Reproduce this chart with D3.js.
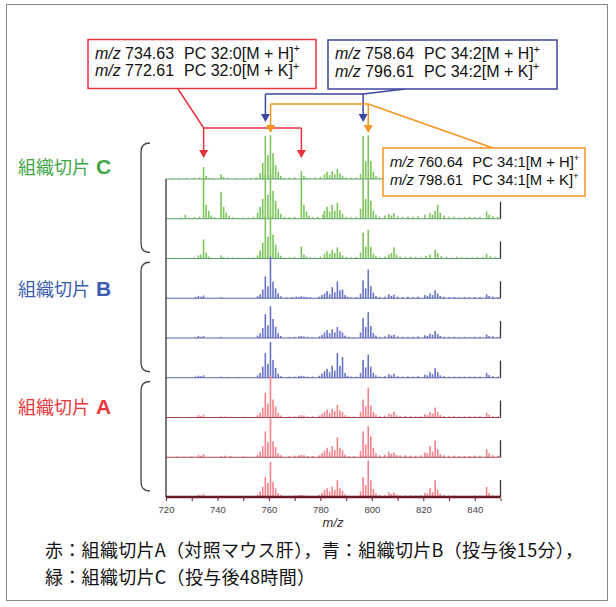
<!DOCTYPE html>
<html>
<head>
<meta charset="utf-8">
<script src="https://cdn.jsdelivr.net/npm/d3@7"></script>
<style>
  body { margin: 0; background: #fff; }
  svg text { font-family: "Liberation Sans", Arial, sans-serif; }
  .cjk { font-family: "Noto Sans CJK JP", "Noto Sans", sans-serif; }
</style>
</head>
<body>
<div id="chart"></div>
<script>
// rows, top to bottom (slice C x3, slice B x3, slice A x3)
const rowIds = ['C1', 'C2', 'C3', 'B1', 'B2', 'B3', 'A1', 'A2', 'A3'];

// peaks: [m/z, relative intensity]  (100 = one row height)
const specC1 = [
  [722, 2], [725, 2], [728, 3], [731, 3], [733, 4], [734.6, 30], [735.6, 8], [736.6, 3], [738, 2],
  [741.4, 12], [742.4, 5], [744, 3], [747, 2], [750, 2], [753, 3], [755, 4], [756.6, 15], [757.6, 40],
  [758.6, 108], [759.6, 60], [760.6, 110], [761.6, 65], [762.6, 35], [763.6, 18], [764.6, 8], [766, 3],
  [768, 3], [770, 4], [772.6, 20], [773.6, 8], [774.6, 4], [776, 3], [778, 4], [780, 5], [781.6, 12],
  [782.6, 18], [783.6, 10], [784.6, 20], [785.6, 12], [786.6, 25], [787.6, 14], [788.6, 8], [790, 4],
  [792, 3], [794, 4], [795.6, 12], [796.6, 108], [797.6, 45], [798.6, 110], [799.6, 45], [800.6, 18],
  [801.6, 8], [803, 4], [805, 5], [806.6, 8], [808.6, 10], [810, 5], [812, 4], [814, 5], [816, 4],
  [818, 5], [820.6, 8], [822.6, 10], [824.6, 12], [826, 6], [828, 4], [830, 3], [832, 4], [834, 3],
  [836, 3], [838, 3], [840, 3], [842, 4], [844.6, 10], [846, 6], [848, 4], [849.5, 3]
];
const specC2 = [
  [723, 2], [726, 3], [727.5, 10], [729, 3], [731, 4], [733, 5], [734.6, 100], [735.6, 35], [736.6, 20],
  [737.6, 8], [739, 4], [741.4, 68], [742.4, 30], [743.4, 15], [744.5, 8], [746, 4], [748, 3], [750, 3],
  [752, 3], [754, 5], [755.6, 15], [756.6, 30], [757.6, 50], [758.6, 110], [759.6, 60], [760.6, 112],
  [761.6, 70], [762.6, 45], [763.6, 25], [764.6, 12], [766, 5], [768, 4], [770, 5], [772.6, 100],
  [773.6, 35], [774.6, 18], [775.6, 8], [777, 4], [779, 5], [781, 10], [781.6, 20], [782.6, 30],
  [783.6, 18], [784.6, 35], [785.6, 20], [786.6, 40], [787.6, 22], [788.6, 12], [790, 5], [792, 4],
  [794, 5], [795.6, 25], [796.6, 105], [797.6, 50], [798.6, 100], [799.6, 45], [800.6, 20], [801.6, 10],
  [803, 5], [805, 8], [806.6, 12], [807.6, 8], [808.6, 14], [810, 6], [812, 5], [814, 6], [816, 5],
  [818, 6], [820.6, 10], [822.6, 14], [823.6, 10], [824.6, 20], [825.6, 35], [826.6, 15], [828, 8],
  [830, 5], [832, 5], [834, 4], [836, 4], [838, 5], [840, 4], [842, 5], [844.6, 18], [845.6, 10],
  [847, 6], [849, 4]
];
const specC3 = [
  [723, 2], [728, 2], [731, 3], [732.6, 8], [733.6, 10], [734.6, 48], [735.6, 15], [736.6, 5], [738, 2],
  [741.4, 8], [742.4, 4], [744, 3], [746, 3], [748, 2], [750, 2], [752, 2], [754, 3], [755.6, 8],
  [756.6, 20], [757.6, 40], [758.6, 105], [759.6, 55], [760.6, 108], [761.6, 60], [762.6, 35],
  [763.6, 15], [764.6, 7], [766, 3], [768, 3], [770, 4], [772.6, 30], [773.6, 10], [774.6, 5], [776, 3],
  [778, 3], [780, 5], [781.6, 12], [782.6, 18], [783.6, 12], [784.6, 22], [785.6, 14], [786.6, 28],
  [787.6, 16], [788.6, 8], [790, 4], [792, 3], [794, 4], [795.6, 15], [796.6, 65], [797.6, 30],
  [798.6, 72], [799.6, 30], [800.6, 12], [801.6, 6], [803, 4], [805, 5], [806.6, 10], [807.6, 14],
  [808.6, 28], [809.6, 10], [811, 5], [813, 4], [815, 5], [817, 4], [819, 4], [821, 6], [822.6, 10],
  [824.6, 22], [825.6, 14], [827, 6], [829, 4], [831, 3], [833, 4], [835, 3], [837, 3], [839, 3],
  [841, 4], [843, 4], [844.6, 12], [846, 6], [848, 4]
];
const specB1 = [
  [731.5, 3], [732.6, 6], [733.6, 4], [734.6, 7], [741.4, 3], [755.6, 5], [756.6, 10], [757.6, 22],
  [758.6, 55], [759.6, 30], [760.6, 105], [761.6, 42], [762.6, 25], [763.6, 12], [764.6, 5], [767, 2],
  [769, 3], [770.6, 4], [771.6, 3], [772.6, 5], [773.6, 4], [774.6, 3], [776, 2], [779.6, 4], [780.6, 8],
  [781.6, 12], [782.6, 18], [783.6, 10], [784.6, 28], [785.6, 15], [786.6, 42], [787.6, 20], [788.6, 22],
  [789.6, 8], [790.6, 4], [792, 2], [794, 3], [795.6, 12], [796.6, 45], [797.6, 25], [798.6, 72],
  [799.6, 30], [800.6, 14], [801.6, 6], [803, 3], [805, 4], [806.6, 10], [807.6, 6], [808.6, 9],
  [810, 4], [812, 3], [814, 4], [816, 3], [818, 4], [820.6, 8], [821.6, 6], [822.6, 12], [823.6, 8],
  [824.6, 20], [825.6, 12], [826.6, 6], [828, 4], [830, 3], [832, 3], [834, 2], [836, 3], [838, 2],
  [840, 3], [842, 3], [844.6, 10], [845.6, 6], [847, 4], [849, 3]
];
const specB2 = [
  [731.5, 2], [732.6, 5], [733.6, 3], [734.6, 5], [741.4, 3], [755.6, 6], [756.6, 12], [757.6, 25],
  [758.6, 60], [759.6, 32], [760.6, 80], [761.6, 48], [762.6, 28], [763.6, 12], [764.6, 5], [768, 2],
  [770, 3], [771.6, 4], [772.6, 5], [773.6, 4], [775, 3], [777, 2], [779.6, 4], [780.6, 8], [781.6, 14],
  [782.6, 20], [783.6, 12], [784.6, 22], [785.6, 14], [786.6, 28], [787.6, 18], [788.6, 14],
  [789.6, 6], [791, 3], [793, 2], [795.6, 14], [796.6, 50], [797.6, 28], [798.6, 65], [799.6, 30],
  [800.6, 12], [801.6, 6], [803, 3], [805, 4], [806.6, 9], [807.6, 6], [808.6, 8], [810, 4], [812, 3],
  [814, 3], [816, 3], [818, 4], [820.6, 7], [821.6, 5], [822.6, 11], [823.6, 8], [824.6, 18],
  [825.6, 10], [826.6, 5], [828, 3], [830, 3], [832, 3], [834, 2], [836, 3], [838, 2], [840, 3],
  [842, 3], [844.6, 9], [845.6, 5], [847, 4], [849, 3]
];
const specB3 = [
  [731.5, 3], [732.6, 5], [733.6, 4], [734.6, 6], [741.4, 3], [744, 2], [748, 2], [755.6, 6],
  [756.6, 12], [757.6, 28], [758.6, 62], [759.6, 35], [760.6, 90], [761.6, 45], [762.6, 25],
  [763.6, 10], [764.6, 4], [768, 3], [770, 3], [771.6, 4], [772.6, 5], [773.6, 4], [775, 3], [777, 3],
  [779.6, 5], [780.6, 10], [781.6, 16], [782.6, 22], [783.6, 14], [784.6, 30], [785.6, 18],
  [786.6, 62], [787.6, 30], [788.6, 52], [789.6, 12], [790.6, 5], [792, 3], [794, 3], [795.6, 12],
  [796.6, 45], [797.6, 26], [798.6, 58], [799.6, 28], [800.6, 12], [801.6, 6], [803, 3], [805, 4],
  [806.6, 9], [807.6, 6], [808.6, 10], [810, 4], [812, 3], [814, 4], [816, 3], [818, 4], [820.6, 8],
  [821.6, 6], [822.6, 14], [823.6, 9], [824.6, 24], [825.6, 14], [826.6, 6], [828, 4], [830, 3],
  [832, 3], [834, 3], [836, 3], [838, 3], [840, 3], [842, 3], [844.6, 12], [845.6, 7], [847, 4],
  [849, 3]
];
const specA1 = [
  [724, 2], [730, 2], [732.6, 6], [733.6, 4], [734.6, 7], [741.4, 3], [743, 3], [745, 2], [750, 2],
  [755.6, 6], [756.6, 12], [757.6, 25], [758.6, 62], [759.6, 35], [760.6, 105], [761.6, 45],
  [762.6, 28], [763.6, 12], [764.6, 5], [768, 3], [770, 3], [771.6, 5], [772.6, 6], [773.6, 5],
  [775, 3], [777, 3], [779.6, 5], [780.6, 9], [781.6, 14], [782.6, 20], [783.6, 12], [784.6, 22],
  [785.6, 16], [786.6, 32], [787.6, 18], [788.6, 14], [789.6, 6], [791, 3], [793, 3], [795.6, 14],
  [796.6, 45], [797.6, 28], [798.6, 75], [799.6, 30], [800.6, 14], [801.6, 7], [803, 4], [805, 5],
  [806.6, 10], [807.6, 8], [808.6, 15], [809.6, 6], [811, 4], [813, 4], [815, 4], [817, 3], [819, 4],
  [820.6, 8], [821.6, 6], [822.6, 14], [823.6, 10], [824.6, 25], [825.6, 14], [826.6, 6], [828, 4],
  [830, 3], [832, 4], [834, 3], [836, 3], [838, 3], [840, 3], [842, 4], [844.6, 12], [845.6, 7],
  [847, 4], [849, 3]
];
const specA2 = [
  [724, 2], [730, 2], [732.6, 6], [733.6, 4], [734.6, 8], [741.4, 3], [743, 4], [745, 3], [750, 2],
  [755.6, 6], [756.6, 14], [757.6, 28], [758.6, 65], [759.6, 38], [760.6, 98], [761.6, 40],
  [762.6, 26], [763.6, 10], [764.6, 5], [768, 3], [770, 4], [771.6, 5], [772.6, 6], [773.6, 5],
  [775, 3], [777, 3], [779.6, 5], [780.6, 10], [781.6, 16], [782.6, 24], [783.6, 14], [784.6, 28],
  [785.6, 18], [786.6, 50], [787.6, 24], [788.6, 18], [789.6, 7], [791, 3], [793, 3], [795.6, 16],
  [796.6, 65], [797.6, 32], [798.6, 78], [799.6, 52], [800.6, 24], [801.6, 10], [803, 5], [805, 6],
  [806.6, 14], [807.6, 9], [808.6, 12], [809.6, 6], [811, 5], [813, 5], [815, 4], [817, 4], [819, 5],
  [820.6, 12], [821.6, 10], [822.6, 28], [823.6, 14], [824.6, 42], [825.6, 20], [826.6, 8], [828, 5],
  [830, 4], [832, 4], [834, 3], [836, 3], [838, 3], [840, 4], [842, 4], [844.6, 20], [845.6, 10],
  [847, 5], [849, 4]
];
const specA3 = [
  [724, 2], [730, 2], [732.6, 5], [733.6, 4], [734.6, 7], [740, 3], [742, 3], [744, 3], [750, 2],
  [755.6, 6], [756.6, 14], [757.6, 26], [758.6, 50], [759.6, 35], [760.6, 88], [761.6, 38],
  [762.6, 22], [763.6, 10], [764.6, 5], [768, 3], [770, 4], [771.6, 5], [772.6, 5], [773.6, 4],
  [775, 3], [777, 3], [779.6, 5], [780.6, 10], [781.6, 18], [782.6, 22], [783.6, 14], [784.6, 26],
  [785.6, 18], [786.6, 42], [787.6, 22], [788.6, 16], [789.6, 7], [791, 3], [793, 3], [795.6, 14],
  [796.6, 50], [797.6, 30], [798.6, 92], [799.6, 42], [800.6, 20], [801.6, 9], [803, 5], [805, 5],
  [806.6, 12], [807.6, 8], [808.6, 11], [809.6, 6], [811, 4], [813, 4], [815, 4], [817, 4], [819, 5],
  [820.6, 10], [821.6, 9], [822.6, 22], [823.6, 12], [824.6, 42], [825.6, 18], [826.6, 8], [828, 5],
  [830, 4], [832, 4], [834, 3], [836, 3], [838, 3], [840, 4], [842, 4], [844.6, 25], [845.6, 10],
  [847, 5], [849, 4]
];
const spectra = [specC1, specC2, specC3, specB1, specB2, specB3, specA1, specA2, specA3];

const xTicks = [720, 730, 740, 750, 760, 770, 780, 790, 800, 810, 820, 830, 840, 850];

// annotated ions
const redIons = [734.63, 772.61];
const blueIons = [758.64, 796.61];
const orangeIons = [760.64, 798.61];
const redLabels = [['734.63', 'PC 32:0[M + H]'], ['772.61', 'PC 32:0[M + K]']];
const blueLabels = [['758.64', 'PC 34:2[M + H]'], ['796.61', 'PC 34:2[M + K]']];
const orangeLabels = [['760.64', 'PC 34:1[M + H]'], ['798.61', 'PC 34:1[M + K]']];

const groupNames = ['C', 'B', 'A'];
const caption1 = '赤：組織切片A（対照マウス肝），青：組織切片B（投与後15分），';
const caption2 = '緑：組織切片C（投与後48時間）';

// ---- layout / styles
const W = 616, H = 607;
const groupStyle = {
  C: { bar: '#7cc65c', base: '#5f9e6c', text: '#3fa648' },
  B: { bar: '#6874c6', base: '#5a64ae', text: '#3b5db0' },
  A: { bar: '#f2838b', base: '#a84452', text: '#e8383d' },
};
const red = '#e8323c', blue = '#3b469e', orange = '#f7941d';

const svg = d3.select('#chart').append('svg')
  .attr('width', W).attr('height', H);

// outer frame
svg.append('rect')
  .attr('x', 6.5).attr('y', 4.5).attr('width', 601).attr('height', 596)
  .attr('fill', 'none').attr('stroke', '#888').attr('stroke-width', 1);

const x = d3.scaleLinear().domain([720, 850]).range([166, 500.5]);
const rowY = d3.scalePoint().domain(rowIds).range([179, 497]);
const hgt = d3.scaleLinear().domain([0, 100]).range([0, 39.75]);

// spectra
rowIds.forEach((id, i) => {
  const st = groupStyle[id[0]];
  const base = rowY(id);
  const g = svg.append('g');
  g.selectAll('rect')
    .data(spectra[i])
    .enter().append('rect')
    .attr('x', d => x(d[0]) - 0.8)
    .attr('width', 1.6)
    .attr('y', d => base - hgt(d[1]))
    .attr('height', d => hgt(d[1]))
    .attr('fill', st.bar);
  // baseline
  g.append('line')
    .attr('x1', x(720)).attr('x2', x(850))
    .attr('y1', base).attr('y2', base)
    .attr('stroke', i === rowIds.length - 1 ? '#6a1c24' : st.base)
    .attr('stroke-width', i === rowIds.length - 1 ? 2.5 : 1.2);
  // right scale tick
  g.append('line')
    .attr('x1', x(850)).attr('x2', x(850))
    .attr('y1', base).attr('y2', base - 17)
    .attr('stroke', '#333').attr('stroke-width', 1.3);
});

// left axis line
svg.append('line')
  .attr('x1', x(720)).attr('x2', x(720))
  .attr('y1', rowY('C1')).attr('y2', rowY('A3'))
  .attr('stroke', '#333').attr('stroke-width', 1.3);

// bottom axis
const xAxis = d3.axisBottom(x)
  .tickValues(xTicks)
  .tickSize(3)
  .tickFormat(d => (d % 20 === 0 && d < 850) ? d : '');
const axG = svg.append('g')
  .attr('transform', `translate(0, ${rowY('A3') + 1})`)
  .call(xAxis);
axG.select('.domain').remove();
axG.selectAll('line').attr('stroke', '#6a1c24');
axG.selectAll('text')
  .attr('fill', '#444')
  .style('font-size', '9.5px')
  .style('font-family', '"Liberation Sans", Arial, sans-serif')
  .attr('dy', '0.9em');

svg.append('text')
  .attr('x', 333).attr('y', 527)
  .attr('text-anchor', 'middle')
  .style('font-style', 'italic')
  .style('font-size', '13px')
  .attr('fill', '#333')
  .text('m/z');

// brackets + group labels
const groupRows = [['C1', 'C3'], ['B1', 'B3'], ['A1', 'A3']];
const labelY = [174, 296, 414];
groupNames.forEach((gname, i) => {
  const y1 = rowY(groupRows[i][0]) - 36;
  const y2 = rowY(groupRows[i][1]) - 6;
  svg.append('path')
    .attr('d', `M150,${y1} Q141,${y1} 141,${y1 + 9} L141,${y2 - 9} Q141,${y2} 150,${y2}`)
    .attr('fill', 'none').attr('stroke', '#444').attr('stroke-width', 1.3);
  const t = svg.append('text')
    .attr('y', labelY[i])
    .attr('fill', groupStyle[gname].text);
  t.append('tspan').attr('x', 18).attr('class', 'cjk')
    .style('font-size', '18px').text('組織切片');
  t.append('tspan').attr('x', 96)
    .style('font-size', '21px').style('font-weight', 'bold').text(gname);
});

// annotation boxes
function box(bx, by, bw, bh, color, labels, fs) {
  svg.append('rect')
    .attr('x', bx).attr('y', by).attr('width', bw).attr('height', bh)
    .attr('fill', '#fff').attr('stroke', color).attr('stroke-width', 1.5);
  labels.forEach((l, k) => {
    const t = svg.append('text')
      .attr('y', by + 19 + k * 17.5)
      .style('font-size', fs + 'px').attr('fill', '#111');
    t.append('tspan').attr('x', bx + 7).style('font-style', 'italic').text('m/z');
    t.append('tspan').attr('dx', fs * 0.27).text(l[0]);
    t.append('tspan').attr('dx', fs * 0.62).text(l[1]);
    t.append('tspan').attr('dy', -fs * 0.4).style('font-size', (fs * 0.65) + 'px').text('+');
  });
}

function arrowHead(ax, tipY, color) {
  svg.append('path')
    .attr('d', `M${ax - 4.5},${tipY - 8} L${ax + 4.5},${tipY - 8} L${ax},${tipY} Z`)
    .attr('fill', color);
}

function bracketArrows(ions, from, barY, tipY, color) {
  const xs = ions.map(x);
  svg.append('path')
    .attr('d', `M${from[0]},${from[1]} L${xs[from[2]]},${barY} L${xs[1 - from[2]]},${barY}`)
    .attr('fill', 'none').attr('stroke', color).attr('stroke-width', 1.5);
  xs.forEach(ax => {
    svg.append('line')
      .attr('x1', ax).attr('x2', ax).attr('y1', barY).attr('y2', tipY - 6)
      .attr('stroke', color).attr('stroke-width', 1.5);
    arrowHead(ax, tipY, color);
  });
}

bracketArrows(redIons, [178, 89, 0], 128, 158, red);
bracketArrows(blueIons, [405, 89, 1], 94, 122, blue);
bracketArrows(orangeIons, [493, 148, 1], 104, 133, orange);

box(88, 39.5, 228, 49, red, redLabels, 16);
box(328, 40, 229, 49, blue, blueLabels, 16);
box(383, 148, 202, 48, orange, orangeLabels, 14.8);

// caption
[caption1, caption2].forEach((c, k) => {
  svg.append('text')
    .attr('class', 'cjk')
    .attr('x', 45).attr('y', 557 + k * 27)
    .style('font-size', '18px').style('letter-spacing', '0.3px').attr('fill', '#111')
    .text(c);
});
</script>
</body>
</html>
